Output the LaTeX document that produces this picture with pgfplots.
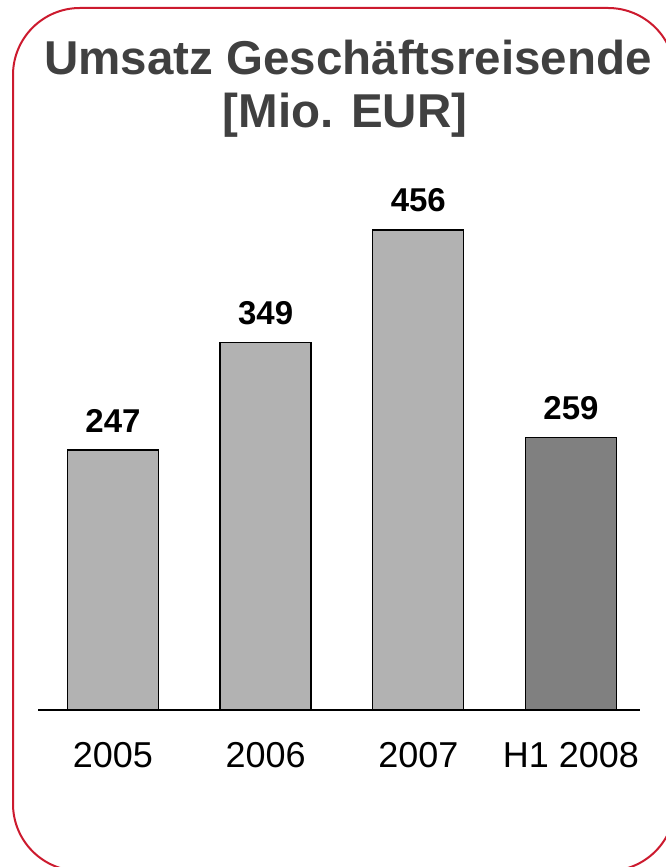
\documentclass[border=0pt]{standalone}
\usepackage{pgfplots}
\pgfplotsset{compat=1.18}
\usepackage{fontspec}
\setmainfont{Liberation Sans}
\definecolor{frame}{HTML}{CC1A2E}
\definecolor{titlegray}{HTML}{404040}
\definecolor{barlight}{HTML}{B2B2B2}
\definecolor{bardark}{HTML}{808080}
\begin{document}
\begin{tikzpicture}[x=1pt,y=1pt]
\clip (0,0) rectangle (666,867);
\draw[frame, line width=2pt, rounded corners=67pt] (13,859) rectangle (675,-4);
\node[anchor=base, inner sep=0pt, font=\fontsize{47.5}{53}\selectfont\bfseries, text=titlegray] at (348,792) {Umsatz Geschäftsreisende};
\node[anchor=base, inner sep=0pt, font=\fontsize{47.5}{53}\selectfont\bfseries, text=titlegray] at (345,739) {[Mio. EUR]};
\begin{axis}[
  at={(38pt,157pt)}, anchor=south west,
  scale only axis, width=602pt, height=505.3pt,
  xmin=-0.491, xmax=3.452, ymin=0, ymax=480,
  axis x line*=bottom, axis y line=none,
  x axis line style={-, line width=1.3pt},
  xtick={0,1,2,3}, xticklabels={2005,2006,2007,H1 2008},
  major tick length=0pt,
  xticklabel style={font=\fontsize{36}{40}\selectfont, inner sep=0pt, anchor=north, yshift=-32pt},
  ybar, bar width=91pt,
  /pgf/number format/assume math mode=true,
  nodes near coords,
  every node near coord/.append style={font=\fontsize{33}{36}\selectfont\bfseries, inner sep=0pt, anchor=south, yshift=17pt},
]
\addplot[bar shift=0pt, fill=barlight, draw=black, line width=1.3pt] coordinates {(0,247) (1,349) (2,456)};
\addplot[bar shift=0pt, fill=bardark, draw=black, line width=1.3pt] coordinates {(3,259)};
\end{axis}
\end{tikzpicture}
\end{document}
